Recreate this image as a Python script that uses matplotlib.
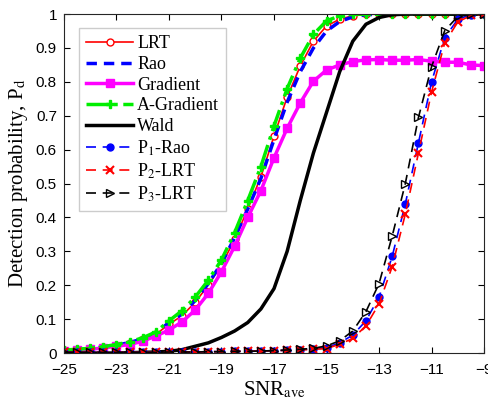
import numpy as np
import matplotlib.pyplot as plt

plt.rcParams['mathtext.fontset'] = 'stix'

snr = np.arange(-25, -8.99, 0.5)

# detection probabilities (step 0.5 dB)
lrt = [0.008, 0.010, 0.012, 0.017, 0.022, 0.030, 0.040, 0.055, 0.085, 0.110, 0.150, 0.200,
       0.260, 0.335, 0.425, 0.520, 0.640, 0.755, 0.847, 0.920, 0.965, 0.985, 0.995, 0.999,
       1, 1, 1, 1, 1, 1, 1, 1, 1]
rao = [0.008, 0.010, 0.013, 0.018, 0.023, 0.031, 0.042, 0.058, 0.090, 0.115, 0.155, 0.205,
       0.265, 0.340, 0.425, 0.515, 0.630, 0.740, 0.830, 0.900, 0.950, 0.978, 0.992, 0.998,
       1, 1, 1, 1, 1, 1, 1, 1, 1]
grad = [0.007, 0.009, 0.011, 0.015, 0.020, 0.025, 0.035, 0.050, 0.068, 0.092, 0.127, 0.176,
        0.240, 0.315, 0.400, 0.479, 0.576, 0.663, 0.738, 0.802, 0.835, 0.850, 0.860, 0.865,
        0.866, 0.864, 0.864, 0.866, 0.861, 0.858, 0.858, 0.850, 0.848]
agrad = [0.009, 0.011, 0.014, 0.019, 0.025, 0.033, 0.045, 0.062, 0.095, 0.125, 0.165, 0.215,
         0.275, 0.355, 0.450, 0.550, 0.670, 0.780, 0.870, 0.940, 0.980, 0.995, 1.0, 1.0,
         1, 1, 1, 1, 1, 1, 1, 1, 1]
wald = [0.0, 0.0, 0.0, 0.0, 0.0, 0.001, 0.002, 0.003, 0.005, 0.010, 0.020, 0.030,
        0.046, 0.065, 0.090, 0.130, 0.190, 0.300, 0.450, 0.590, 0.710, 0.830, 0.920, 0.970,
        0.990, 0.998, 1, 1, 1, 1, 1, 1, 1]
p1_rao = [0.002, 0.002, 0.002, 0.002, 0.002, 0.002, 0.002, 0.002, 0.003, 0.003, 0.003, 0.004,
          0.004, 0.005, 0.005, 0.006, 0.007, 0.008, 0.010, 0.012, 0.016, 0.030, 0.053, 0.095,
          0.165, 0.285, 0.440, 0.620, 0.800, 0.930, 0.985, 0.998, 1.0]
p2_lrt = [0.002, 0.002, 0.002, 0.002, 0.002, 0.002, 0.002, 0.002, 0.003, 0.003, 0.003, 0.004,
          0.004, 0.005, 0.005, 0.006, 0.007, 0.008, 0.009, 0.011, 0.013, 0.026, 0.043, 0.080,
          0.145, 0.255, 0.410, 0.590, 0.770, 0.915, 0.977, 0.996, 1.0]
p3_lrt = [0.002, 0.002, 0.002, 0.002, 0.002, 0.002, 0.002, 0.002, 0.003, 0.003, 0.003, 0.004,
          0.004, 0.005, 0.005, 0.006, 0.007, 0.009, 0.011, 0.014, 0.021, 0.036, 0.065, 0.122,
          0.205, 0.345, 0.500, 0.695, 0.845, 0.951, 0.993, 0.999, 1.0]

fig = plt.figure(figsize=(4.88, 4.03), dpi=100)
ax = fig.add_axes([0.131, 0.124, 0.861, 0.841])

ax.plot(snr, lrt, '-', color='#ff0000', lw=1.2, marker='o', ms=5, mfc='white', mec='#ff0000', label='LRT')
ax.plot(snr, rao, '--', color='#0000ff', lw=2.5, dashes=(3, 2), label='Rao')
ax.plot(snr, grad, '-', color='#ff00ff', lw=2.5, marker='s', ms=6, label='Gradient')
ax.plot(snr, agrad, '-.', color='#00ee00', lw=2.5, marker='P', ms=6, label='A-Gradient')
ax.plot(snr, wald, '-', color='black', lw=2.5, label='Wald')
ax.plot(snr, p1_rao, '--', color='#0000ff', lw=1.2, dashes=(6, 4), marker='o', ms=5, label=r'P$_1$-Rao')
ax.plot(snr, p2_lrt, '--', color='#ff0000', lw=1.2, dashes=(6, 4), marker='x', ms=6, mew=1.5, label=r'P$_2$-LRT')
ax.plot(snr, p3_lrt, '--', color='black', lw=1.2, dashes=(6, 4), marker='>', ms=6, mfc='none', label=r'P$_3$-LRT')

ax.set_xlim(-25, -9)
ax.set_ylim(0, 1)
ax.set_xticks(np.arange(-25, -8, 2))
ax.set_yticks(np.arange(0, 1.01, 0.1))
ax.set_yticklabels(['0', '0.1', '0.2', '0.3', '0.4', '0.5', '0.6', '0.7', '0.8', '0.9', '1'])
ax.tick_params(direction='in', top=True, right=True, labelsize=11, length=4)
ax.tick_params(axis='x', pad=7)
ax.tick_params(axis='y', pad=5)
for lab in ax.get_xticklabels() + ax.get_yticklabels():
    lab.set_family('Liberation Sans')
for sp in ax.spines.values():
    sp.set_color('#262626')

ax.set_xlabel(r'SNR$_{\rm ave}$', family='Liberation Serif', fontsize=15, labelpad=2)
ax.set_ylabel(r'Detection probability, P$_{\rm d}$', family='Liberation Serif', fontsize=15, labelpad=4)

leg = ax.legend(loc='upper left', bbox_to_anchor=(0.015, 0.985), prop={'family': 'Liberation Serif', 'size': 13},
                fancybox=False, edgecolor='#cccccc', handlelength=2.6, handletextpad=0.2,
                labelspacing=0.2, borderpad=0.4, framealpha=1)

fig.savefig('out.png', dpi=100)
